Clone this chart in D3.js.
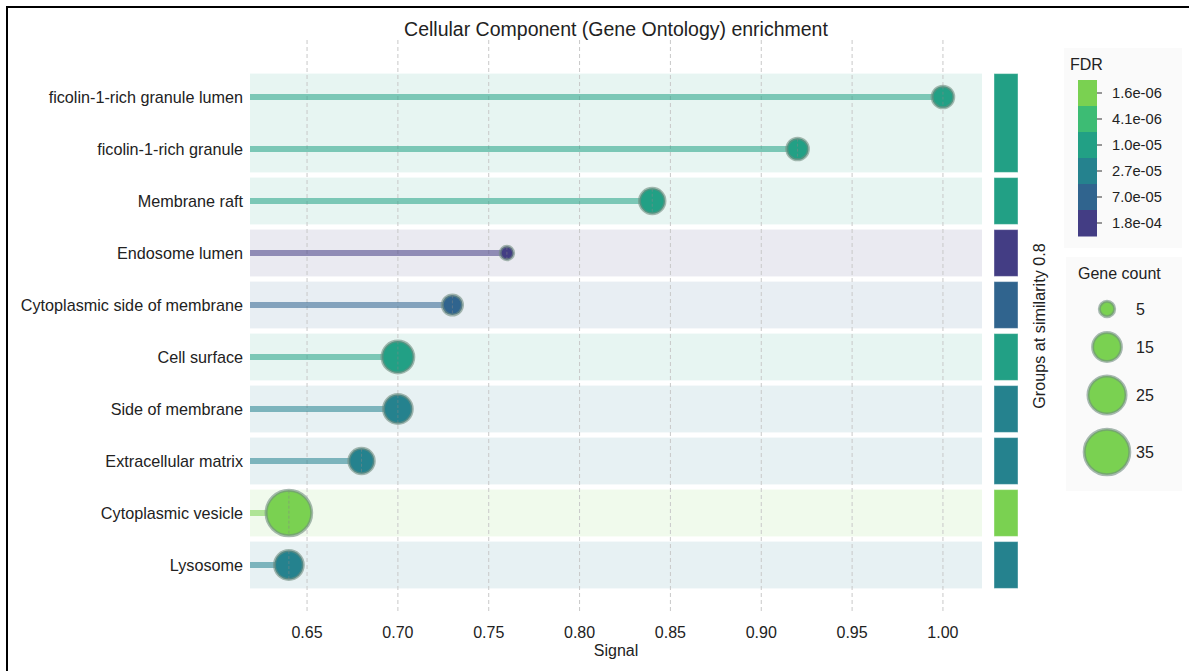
<!DOCTYPE html>
<html><head><meta charset="utf-8">
<script src="https://cdn.jsdelivr.net/npm/d3@7/dist/d3.min.js"></script>
<style>
body{margin:0;background:#fff;}
svg{font-family:"Liberation Sans",Arial,sans-serif;}
</style></head>
<body><svg id="c" width="1189" height="671"></svg>
<script>
const categories = ["ficolin-1-rich granule lumen","ficolin-1-rich granule","Membrane raft","Endosome lumen","Cytoplasmic side of membrane","Cell surface","Side of membrane","Extracellular matrix","Cytoplasmic vesicle","Lysosome"];
const signal = [1.00,0.92,0.84,0.76,0.73,0.70,0.70,0.68,0.64,0.64];
const fdr = ["1.0e-05","1.0e-05","1.0e-05","1.8e-04","7.0e-05","1.0e-05","2.7e-05","2.7e-05","1.6e-06","2.7e-05"];
const geneCount = [9,9,12,4,8,18,15,12,35,15];
const groupIds = [0,0,1,2,3,4,5,6,7,8];
const fdrLevels = ["1.6e-06","4.1e-06","1.0e-05","2.7e-05","7.0e-05","1.8e-04"];
const fdrColors = ["#7ad151","#3dbc74","#22a085","#25828e","#30648e","#433d84"];
const sizeLegend = [5,15,25,35];
const xTicks = [0.65,0.70,0.75,0.80,0.85,0.90,0.95,1.00];

const svg = d3.select("#c");
const color = d3.scaleOrdinal(fdrLevels, fdrColors);
const x = d3.scaleLinear().domain([0.6186,1.0215]).range([250,982]);
const y = d3.scaleBand().domain(categories).range([71,591]).paddingInner(0.1).paddingOuter(0.05);
const r = d3.scaleSqrt().domain([0,35]).range([0,24.3]);
const bw = y.bandwidth();

// frame
svg.append("rect").attr("x",7).attr("y",7).attr("width",1300).attr("height",800)
  .attr("fill","none").attr("stroke","#000").attr("stroke-width",2);

// title
svg.append("text").attr("x",616).attr("y",36).attr("text-anchor","middle")
  .attr("font-size",19.5).attr("fill","#222").text("Cellular Component (Gene Ontology) enrichment");

// groups
const rows = categories.map((c,i)=>({c,i,s:signal[i],f:fdr[i],n:geneCount[i],g:groupIds[i]}));
const groups = d3.groups(rows, d=>d.g).map(([g,arr])=>({g,top:y(arr[0].c),bot:y(arr[arr.length-1].c)+bw,f:arr[0].f}));

// bands
svg.append("g").selectAll("rect").data(groups).join("rect")
  .attr("x",250).attr("width",732).attr("y",d=>d.top).attr("height",d=>d.bot-d.top)
  .attr("fill",d=>color(d.f)).attr("fill-opacity",0.11);

// grid
svg.append("g").selectAll("line").data(xTicks).join("line")
  .attr("x1",d=>x(d)).attr("x2",d=>x(d)).attr("y1",40).attr("y2",614)
  .attr("stroke","#c8c8c8").attr("stroke-width",1).attr("stroke-dasharray","4,3");

// stems
svg.append("g").selectAll("line").data(rows).join("line")
  .attr("x1",250).attr("x2",d=>x(d.s)).attr("y1",d=>y(d.c)+bw/2).attr("y2",d=>y(d.c)+bw/2)
  .attr("stroke",d=>color(d.f)).attr("stroke-opacity",0.55).attr("stroke-width",6);

// dots
const dots = svg.append("g").selectAll("g").data(rows).join("g")
  .attr("transform",d=>`translate(${x(d.s)},${y(d.c)+bw/2})`);
dots.append("circle").attr("r",d=>r(d.n)-1.5).attr("fill",d=>color(d.f))
  .attr("stroke","#6f8c7e").attr("stroke-opacity",0.6).attr("stroke-width",3);
dots.append("line").attr("y1",d=>-r(d.n)+2).attr("y2",d=>r(d.n)-2)
  .attr("stroke","#888").attr("stroke-opacity",0.5).attr("stroke-dasharray","3,2");

// y labels
svg.append("g").selectAll("text").data(rows).join("text")
  .attr("x",243).attr("y",d=>y(d.c)+bw/2).attr("dy","0.35em").attr("text-anchor","end")
  .attr("font-size",16.2).attr("fill","#222").text(d=>d.c);

// x axis labels
svg.append("g").selectAll("text").data(xTicks).join("text")
  .attr("x",d=>x(d)).attr("y",638).attr("text-anchor","middle").attr("font-size",16).attr("fill","#222")
  .text(d=>d3.format(".2f")(d));
svg.append("text").attr("x",616).attr("y",656).attr("text-anchor","middle").attr("font-size",16).attr("fill","#222").text("Signal");

// group bars
svg.append("g").selectAll("rect").data(groups).join("rect")
  .attr("x",994).attr("width",24).attr("y",d=>d.top).attr("height",d=>d.bot-d.top)
  .attr("fill",d=>color(d.f)).attr("stroke","#fff").attr("stroke-opacity",0.4).attr("stroke-width",1);
svg.append("text").attr("transform","translate(1045,326) rotate(-90)").attr("text-anchor","middle")
  .attr("font-size",16.2).attr("fill","#222").text("Groups at similarity 0.8");

// FDR legend
svg.append("rect").attr("x",1064).attr("y",48).attr("width",118).attr("height",200).attr("fill","#fafafa");
svg.append("text").attr("x",1070).attr("y",70).attr("font-size",16).attr("fill","#222").text("FDR");
const cb = d3.scaleBand().domain(fdrLevels).range([80,236]);
svg.append("g").selectAll("rect").data(fdrLevels).join("rect")
  .attr("x",1078).attr("width",19).attr("y",d=>cb(d)).attr("height",cb.bandwidth()+0.5).attr("fill",d=>color(d));
const lg = svg.append("g").selectAll("g").data(fdrLevels).join("g")
  .attr("transform",d=>`translate(1097,${cb(d)+cb.bandwidth()/2})`);
lg.append("line").attr("x1",0).attr("x2",5).attr("stroke","#333");
lg.append("text").attr("x",15).attr("dy","0.35em").attr("font-size",14.7).attr("fill","#222").text(d=>d);

// Gene count legend
svg.append("rect").attr("x",1066).attr("y",257).attr("width",116).attr("height",234).attr("fill","#fafafa");
svg.append("text").attr("x",1078).attr("y",279).attr("font-size",16).attr("fill","#222").text("Gene count");
const sy = d3.scaleOrdinal(sizeLegend,[309,347,395,452]);
const sg = svg.append("g").selectAll("g").data(sizeLegend).join("g")
  .attr("transform",d=>`translate(1107,${sy(d)})`);
sg.append("circle").attr("r",d=>r(d)-1.5).attr("fill","#7ad151")
  .attr("stroke","#6f8c7e").attr("stroke-opacity",0.6).attr("stroke-width",3);
sg.append("text").attr("x",29).attr("dy","0.35em").attr("font-size",16).attr("fill","#222").text(d=>d);
</script></body></html>
